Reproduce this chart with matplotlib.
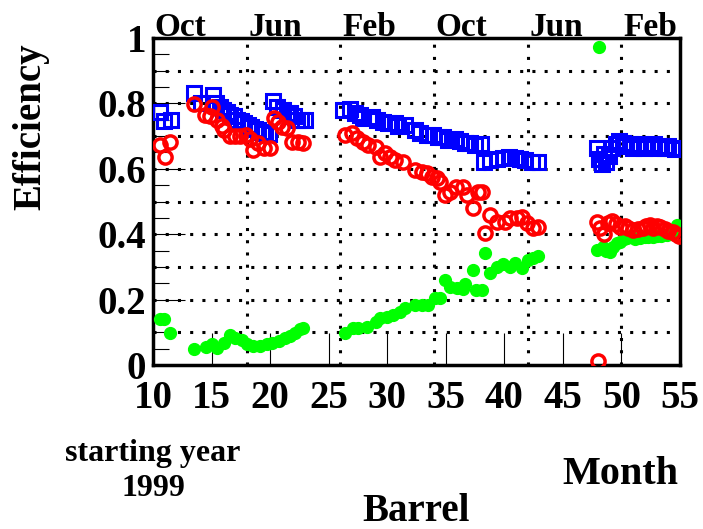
import matplotlib
matplotlib.use('Agg')
import matplotlib.pyplot as plt
import matplotlib.transforms as mtransforms

# barrel efficiency vs month
blue_x = [10.6, 10.9, 11.5,
          13.5, 14.1, 15.1, 15.4, 15.7, 16.0, 16.3, 16.6, 16.9, 17.2, 17.5, 17.8,
          18.1, 18.4, 18.7, 19.0, 19.3, 19.6, 19.9,
          20.25, 20.6, 21.1, 21.4, 21.7, 22.0, 22.3, 22.6, 22.98,
          26.2, 26.8, 27.25, 27.7, 27.95, 28.7, 29.1, 29.6, 30.1, 30.7, 30.9, 31.5,
          32.4, 32.8, 33.4, 33.9, 34.3, 34.8, 35.2, 35.8, 36.2, 36.6, 37.1, 37.5,
          38.0, 38.3, 38.8, 39.4, 39.9, 40.4, 40.9, 41.3, 41.8, 42.4, 42.9,
          47.9, 48.1, 48.3, 48.5, 48.7, 48.9, 49.2, 49.5, 49.8, 50.1, 50.4, 50.7,
          51.0, 51.3, 51.6, 51.9, 52.2, 52.5, 52.8, 53.1, 53.4, 53.7, 54.0, 54.3,
          54.6, 54.9]
blue_y = [0.775, 0.745, 0.748,
          0.832, 0.80, 0.826, 0.80, 0.79, 0.78, 0.775, 0.765, 0.76, 0.75, 0.745, 0.74,
          0.735, 0.728, 0.722, 0.718, 0.714, 0.71, 0.705,
          0.807, 0.79, 0.78, 0.77, 0.77, 0.76, 0.75, 0.75, 0.75,
          0.78, 0.783, 0.77, 0.765, 0.755, 0.758, 0.75, 0.743, 0.74, 0.74, 0.73, 0.734,
          0.72, 0.71, 0.703, 0.703, 0.697, 0.697, 0.688, 0.69, 0.684, 0.68, 0.679, 0.673,
          0.676, 0.62, 0.627, 0.63, 0.633, 0.636, 0.633, 0.63, 0.627, 0.62, 0.62,
          0.665, 0.63, 0.615, 0.645, 0.62, 0.64, 0.665, 0.675, 0.685, 0.68, 0.67, 0.675,
          0.665, 0.67, 0.675, 0.665, 0.67, 0.67, 0.675, 0.665, 0.67, 0.665, 0.67, 0.665,
          0.66, 0.665]

red_x = [10.6, 11.0, 11.45,
         13.5, 14.4, 14.9, 15.0, 15.5, 15.9, 16.1, 16.6, 17.0, 17.4, 17.9, 18.3,
         18.5, 19.0, 19.5, 20.0,
         20.3, 20.7, 21.0, 21.4, 21.9, 22.4, 22.8,
         26.4, 27.0, 27.4, 27.9, 28.4, 29.0, 29.4, 29.8, 30.2, 30.7, 31.35, 32.4,
         33.0, 33.4, 33.8, 34.25, 34.5, 34.9, 35.4, 35.9, 36.5, 36.8, 37.3, 37.75,
         38.1, 38.35, 38.8, 39.4, 40.05, 40.5, 41.1, 41.5, 41.9, 42.45, 42.9,
         47.9, 48.0, 48.2, 48.5, 48.85, 49.2, 49.5, 49.9, 50.3, 50.6, 51.0, 51.4,
         51.8, 52.1, 52.4, 52.7, 53.0, 53.3, 53.7, 54.0, 54.4, 54.7, 54.95]
red_y = [0.673, 0.637, 0.682,
         0.798, 0.765, 0.76, 0.79, 0.75, 0.73, 0.72, 0.70, 0.70, 0.70, 0.703, 0.69,
         0.657, 0.68, 0.664, 0.664,
         0.755, 0.743, 0.728, 0.725, 0.682, 0.682, 0.679,
         0.703, 0.71, 0.694, 0.682, 0.673, 0.667, 0.636, 0.648, 0.636, 0.627, 0.621, 0.596,
         0.59, 0.587, 0.575, 0.572, 0.56, 0.52, 0.53, 0.544, 0.544, 0.52, 0.48, 0.53,
         0.53, 0.403, 0.459, 0.437, 0.437, 0.45, 0.45, 0.453, 0.434, 0.419, 0.422,
         0.437, 0.012, 0.42, 0.40, 0.434, 0.44, 0.43, 0.422, 0.425, 0.418, 0.413, 0.415,
         0.42, 0.425, 0.428, 0.42, 0.425, 0.422, 0.415, 0.41, 0.407, 0.40, 0.395]

green_x = [10.6, 10.9, 11.45,
           13.5, 14.5, 15.0, 15.45, 16.05, 16.6, 17.0, 17.6, 18.0, 18.5, 19.1, 19.7,
           20.2, 20.8, 21.3, 21.7, 22.1, 22.55, 22.8,
           26.4, 27.1, 27.5, 28.3, 29.0, 29.4, 30.0, 30.5, 31.1, 31.5, 32.4, 33.0,
           33.5, 34.1, 34.5, 34.9, 35.4, 35.95, 36.5, 36.6, 37.3, 37.6, 38.1, 38.35,
           38.8, 39.4, 39.9, 40.5, 40.9, 41.5, 42.0, 42.45, 42.9,
           47.9, 48.1, 48.4, 48.7, 49.0, 49.3, 49.6, 49.9, 50.2, 50.5, 50.9, 51.2,
           51.6, 52.0, 52.3, 52.7, 53.0, 53.4, 53.9, 54.3, 54.75]
green_y = [0.142, 0.14, 0.098,
           0.049, 0.055, 0.064, 0.052, 0.067, 0.092, 0.083, 0.076, 0.064, 0.058, 0.058, 0.064,
           0.067, 0.073, 0.083, 0.089, 0.098, 0.11, 0.113,
           0.098, 0.113, 0.113, 0.116, 0.131, 0.144, 0.147, 0.153, 0.162, 0.174, 0.183, 0.183,
           0.183, 0.205, 0.205, 0.26, 0.239, 0.235, 0.232, 0.248, 0.29, 0.229, 0.229, 0.342,
           0.28, 0.30, 0.31, 0.30, 0.312, 0.297, 0.321, 0.327, 0.333,
           0.352, 0.972, 0.36, 0.35, 0.346, 0.36, 0.373, 0.376, 0.385, 0.388, 0.39, 0.385,
           0.388, 0.392, 0.39, 0.39, 0.395, 0.393, 0.397, 0.40, 0.428]

month_pos = [10, 18, 26, 34, 42, 50]
month_labels = ['Oct', 'Jun', 'Feb', 'Oct', 'Jun', 'Feb']
xticks = [10, 15, 20, 25, 30, 35, 40, 45, 50, 55]
yticks = [0, 0.2, 0.4, 0.6, 0.8, 1.0]
ytick_labels = ['0', '0.2', '0.4', '0.6', '0.8', '1']

plt.rcParams['font.family'] = ['Liberation Serif', 'DejaVu Serif']
plt.rcParams['font.weight'] = 'bold'

fig = plt.figure(figsize=(7.03, 5.29), dpi=100)
ax = fig.add_axes([153 / 703, 1 - 365 / 529, 527 / 703, 327 / 529])
ax.set_xlim(10, 55)
ax.set_ylim(0, 1)

# dotted grid: every 0.1 in y, month boundaries in x
dots = (0, (1, 3))
for g in [0.1, 0.2, 0.3, 0.4, 0.5, 0.6, 0.7, 0.8, 0.9]:
    ax.axhline(g, color='black', lw=2.2, ls=dots, zorder=1)
for m in month_pos[1:]:
    ax.axvline(m, color='black', lw=2.2, ls=dots, zorder=1)

ax.plot(blue_x, blue_y, ls='none', marker='s', ms=9.5, mfc='none', mec='#0000ff', mew=2.2, zorder=3)
ax.plot(green_x, green_y, ls='none', marker='o', ms=8.5, mfc='#00ff00', mec='#00ff00', zorder=4)
ax.plot(red_x, red_y, ls='none', marker='o', ms=9.5, mfc='none', mec='#ff0000', mew=2.5, zorder=5)

ax.set_xticks(xticks)
ax.set_xticklabels([str(t) for t in xticks])
ax.set_yticks(yticks)
ax.set_yticklabels(ytick_labels)
ax.set_yticks([i * 0.05 for i in range(21)], minor=True)
ax.tick_params(axis='x', which='major', direction='in', length=23, width=0.8, pad=11,
               labelsize=28, top=False)
ax.tick_params(axis='y', which='major', direction='in', length=23, width=0.8, pad=5,
               labelsize=28, right=False)
ax.tick_params(axis='y', which='minor', direction='in', length=11.5, width=0.8, right=False)
for s in ax.spines.values():
    s.set_linewidth(2.5)

# month labels along the top
trans = mtransforms.blended_transform_factory(ax.transData, ax.transAxes)
for p, lab in zip(month_pos, month_labels):
    ax.text(p + 0.15, 1.006, lab, transform=trans, ha='left', va='baseline',
            fontsize=24, fontweight='bold')

fig.text(31 / 703, 1 - 127 / 529, 'Efficiency', rotation=90, ha='center', va='center',
         fontsize=28, fontweight='bold')
fig.text(416 / 703, 1 - 521 / 529, 'Barrel', ha='center', va='baseline',
         fontsize=28, fontweight='bold')
fig.text(620 / 703, 1 - 484 / 529, 'Month', ha='center', va='baseline',
         fontsize=29, fontweight='bold')
fig.text(153 / 703, 1 - 461 / 529, 'starting year', ha='center', va='baseline',
         fontsize=23, fontweight='bold')
fig.text(153 / 703, 1 - 496 / 529, '1999', ha='center', va='baseline',
         fontsize=23, fontweight='bold')

fig.savefig('out.png', dpi=100)
